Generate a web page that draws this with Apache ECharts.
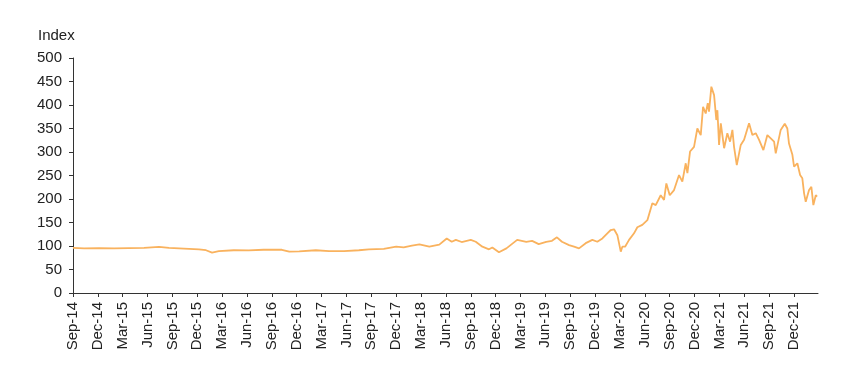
<!DOCTYPE html>
<html>
<head>
<meta charset="utf-8">
<script src="https://cdn.jsdelivr.net/npm/echarts@6/dist/echarts.min.js"></script>
<style>
html,body{margin:0;padding:0;background:#fff;}
#chart{width:855px;height:392px;}
</style>
</head>
<body>
<div id="chart"></div>
<script>
// Quarter tick labels (one every 3 months, starting Sep-14 = month 0)
var tickLabels = ['Sep-14','Dec-14','Mar-15','Jun-15','Sep-15','Dec-15','Mar-16','Jun-16','Sep-16','Dec-16',
  'Mar-17','Jun-17','Sep-17','Dec-17','Mar-18','Jun-18','Sep-18','Dec-18','Mar-19','Jun-19',
  'Sep-19','Dec-19','Mar-20','Jun-20','Sep-20','Dec-20','Mar-21','Jun-21','Sep-21','Dec-21'];

// Time position in months since Sep-14
var months = [0,1.33,3.14,4.95,6.76,8.57,10.38,11.59,12.79,14.0,15.2,16.05,16.78,17.6,19.4,21.2,23.0,25.2,26.1,27.3,
  29.3,30.9,32.7,34.5,35.7,37.5,39.0,39.9,40.9,41.8,43.0,44.2,45.1,45.7,46.2,46.9,48.0,48.6,49.4,50.2,
  50.6,51.4,52.3,53.6,54.7,55.4,56.2,57.1,57.8,58.4,59.0,
  59.86,60.46,61.06,61.87,62.67,63.27,63.88,64.48,64.89,65.29,65.69,66.10,66.29,66.62,67.10,67.70,68.10,68.70,69.31,69.91,
  70.32,70.92,71.32,71.60,72.01,72.53,73.13,73.53,73.94,74.14,74.46,74.94,75.34,75.75,76.03,76.35,76.60,76.75,77.03,77.36,
  77.63,77.76,77.96,78.17,78.57,78.96,79.29,79.57,79.77,80.10,80.58,80.98,81.58,81.98,82.39,82.79,83.31,83.79,84.20,84.60,
  84.80,85.40,85.89,86.20,86.40,86.81,87.01,87.41,87.74,88.01,88.22,88.42,88.82,89.10,89.34,89.63,89.79];

// Index values
var indexValues = [96,95,95.5,95,95.5,96,98,96,95,94,93,91,86,89,91,90.5,92,92,88,88.5,
  91,89,89,91,93,94,98.5,97,101,103.6,98.5,103,116,109,113,108.5,113,109,98.5,93,
  97,86.6,95,113,109,111,104,109,111,118.5,109,
  102,98.5,95,106,113,109,116,127,134,135.5,123,88,98.5,98.5,113,127,140,145,155,191,
  187,208,198,233,208,219,251,237,276,255,301,311,350,336,396,382,404,386,439,421,
  368,389,315,361,308,340,322,347,311,272,315,326,361,336,340,326,304,336,329,322,
  297,347,360,350,318,294,269,276,251,244,212,194,219,226,187,208,205];

var seriesData = months.map(function(m, i){ return [m, indexValues[i]]; });

var FONT = '"Liberation Sans", Arial, sans-serif';
var chart = echarts.init(document.getElementById('chart'));
chart.setOption({
  animation: false,
  backgroundColor: '#ffffff',
  grid: {left: 73, right: 37, top: 58, bottom: 99},
  graphic: [{
    type: 'text', left: 38, top: 28,
    style: {text: 'Index', font: '15px "Liberation Sans", Arial, sans-serif', fill: '#222'}
  }],
  xAxis: {
    type: 'value', min: 0, max: 89.9, interval: 3,
    splitLine: {show: false},
    axisLine: {lineStyle: {color: '#333', width: 1}},
    axisTick: {show: true, length: 4, lineStyle: {color: '#333'}},
    axisLabel: {
      rotate: 90, margin: 9, showMaxLabel: false,
      fontFamily: FONT, fontSize: 15, color: '#222',
      formatter: function(v){ var i = Math.round(v/3); return tickLabels[i] || ''; }
    }
  },
  yAxis: {
    type: 'value', min: 0, max: 500, interval: 50,
    splitLine: {show: false},
    axisLine: {show: true, lineStyle: {color: '#333', width: 1}},
    axisTick: {show: true, length: 4, lineStyle: {color: '#333'}},
    axisLabel: {margin: 11, fontFamily: FONT, fontSize: 15, color: '#222'}
  },
  series: [{
    type: 'line', data: seriesData, showSymbol: false, symbol: 'none',
    lineStyle: {color: '#F9B25E', width: 1.8}
  }]
});
</script>
</body>
</html>
